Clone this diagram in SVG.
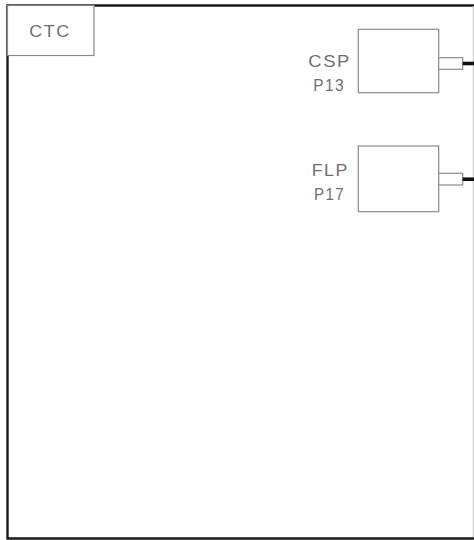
<svg xmlns="http://www.w3.org/2000/svg" width="474" height="540" viewBox="0 0 474 540">
<style>
.frame{fill:none;stroke:#1a1a1a;stroke-width:2.4}
.box{fill:#fff;stroke:#8a8a8a;stroke-width:1.2}
.lbl{font-family:"Liberation Sans",Arial,sans-serif;font-size:17px;letter-spacing:1.5px;fill:#707070}
.wire{stroke:#111;stroke-width:3.6;fill:none}
</style>
<rect width="474" height="540" fill="#fff"/>
<g id="frame">
<path class="frame" d="M474 5.5 H7.5 V538.5 H474"/>
<line x1="473.3" y1="6" x2="473.3" y2="537" stroke="#c4c4c4" stroke-width="1"/>
</g>
<g id="CTC">
<rect class="box" x="7.5" y="5.5" width="86.5" height="50"/>
<text class="lbl" x="29.3" y="36.7" textLength="41.4" lengthAdjust="spacingAndGlyphs">CTC</text>
</g>
<g id="CSP">
<rect class="box" x="358.3" y="29.3" width="80.4" height="63.4"/>
<rect class="box" x="438.7" y="57.7" width="24" height="11.6"/>
<text class="lbl" x="308.3" y="67" textLength="42.7" lengthAdjust="spacingAndGlyphs">CSP</text>
<text class="lbl" x="313.3" y="90.7" textLength="31.7" lengthAdjust="spacingAndGlyphs">P13</text>
</g>
<g id="FLP">
<rect class="box" x="358.3" y="146" width="80.4" height="65.7"/>
<rect class="box" x="438.7" y="173.3" width="24" height="11.7"/>
<text class="lbl" x="311.7" y="175.7" textLength="37.3" lengthAdjust="spacingAndGlyphs">FLP</text>
<text class="lbl" x="314" y="200" textLength="31" lengthAdjust="spacingAndGlyphs">P17</text>
</g>
<g id="connectors">
<line class="wire" x1="462.7" y1="63.5" x2="474" y2="63.5"/>
<line class="wire" x1="462.7" y1="179.2" x2="474" y2="179.2"/>
</g>
</svg>
